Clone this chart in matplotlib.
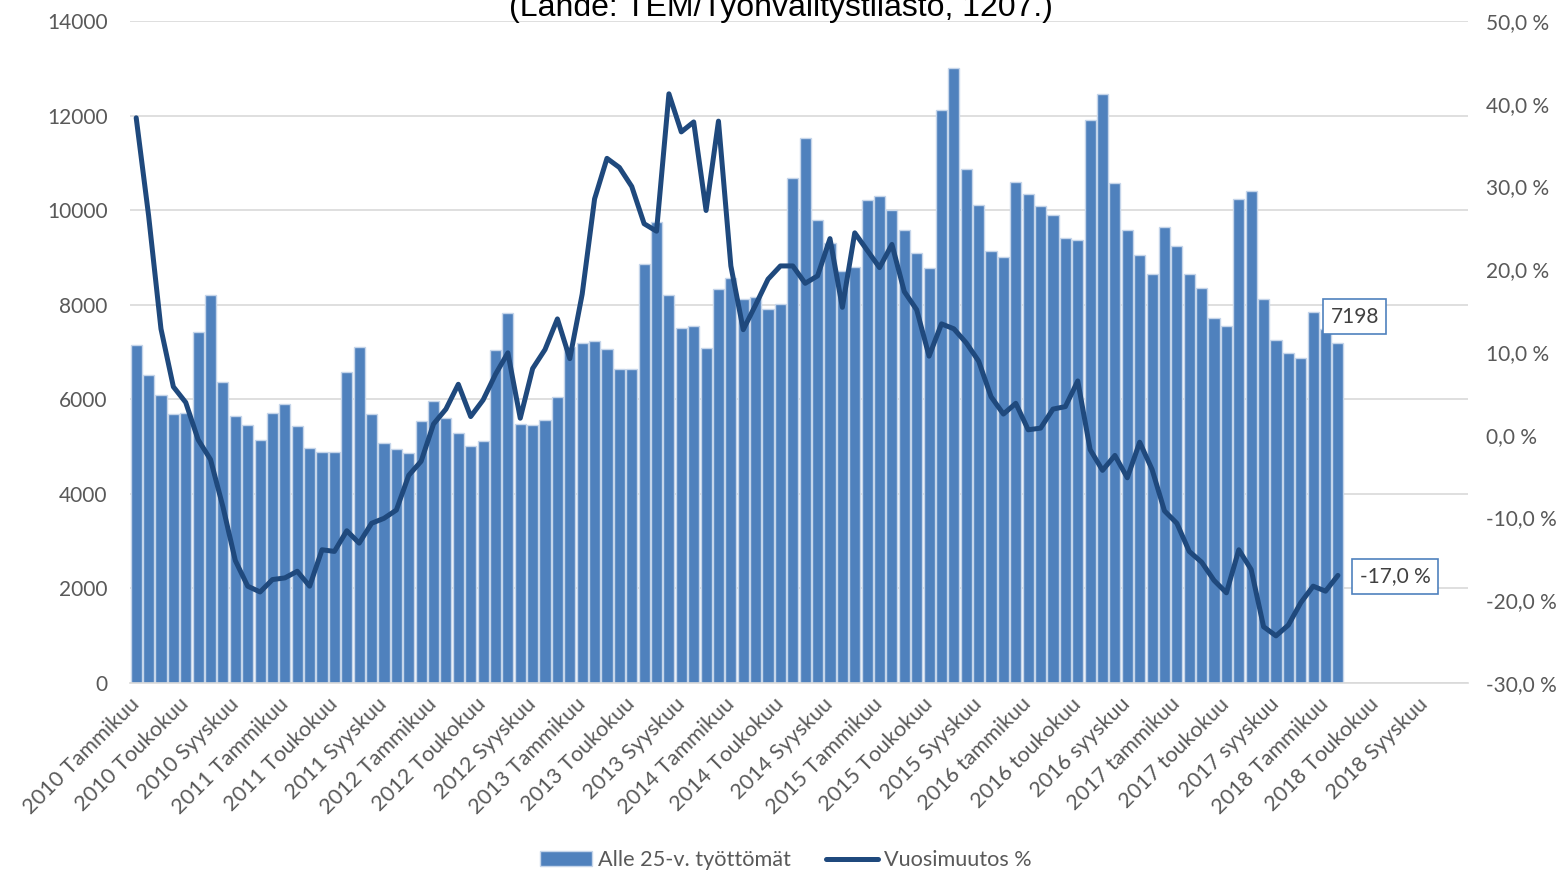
"""
Alle 25-vuotiaat työttömät ja vuosimuutos, kuukausittain 2010-2018
"""

import matplotlib
matplotlib.use("Agg")
import matplotlib.pyplot as plt
import numpy as np

plt.rcParams['font.family'] = ['Lato', 'DejaVu Sans']

# Month names for the category axis
MONTHS = ["Tammikuu", "Helmikuu", "Maaliskuu", "Huhtikuu", "Toukokuu", "Kesäkuu",
          "Heinäkuu", "Elokuu", "Syyskuu", "Lokakuu", "Marraskuu", "Joulukuu"]
YEARS = list(range(2010, 2019))
LOWERCASE_YEARS = [2016, 2017]

# Unemployed under 25 (bars), 2010 Jan -> 2018 Feb
unemployed = [
    7140, 6515, 6100, 5690, 5700, 7430, 8200, 6370, 5650, 5450, 5140, 5700,
    5910, 5430, 4970, 4890, 4890, 6570, 7110, 5690, 5080, 4950, 4870, 5545,
    5965, 5600, 5290, 5020, 5120, 7050, 7820, 5480, 5460, 5560, 6050, 7110,
    7200, 7230, 7070, 6650, 6650, 8860, 9750, 8200, 7510, 7550, 7080, 8335,
    8560, 8130, 8170, 7915, 8020, 10670, 11520, 9790, 9300, 8720, 8800, 10210,
    10290, 10000, 9590, 9090, 8780, 12120, 13010, 10860, 10105, 9130, 9000, 10600,
    10340, 10080, 9895, 9410, 9370, 11900, 12460, 10580, 9575, 9060, 8640, 9635,
    9240, 8655, 8345, 7720, 7550, 10245, 10415, 8125, 7250, 6980, 6875, 7845,
    7495, 7198,
]

# Year-over-year change, % (line)
yoy = [
    38.3, 26.5, 12.8, 5.8, 3.9, -0.6, -3.0, -8.7, -15.2, -18.3, -19.0, -17.5,
    -17.3, -16.5, -18.3, -13.9, -14.1, -11.6, -13.1, -10.7, -10.1, -9.1, -4.9, -3.2,
    1.3, 3.1, 6.1, 2.2, 4.2, 7.3, 9.9, 2.0, 8.0, 10.3, 14.0, 9.2,
    17.0, 28.5, 33.4, 32.3, 30.0, 25.5, 24.6, 41.2, 36.6, 37.8, 27.1, 37.9,
    20.4, 12.7, 15.7, 18.8, 20.4, 20.4, 18.3, 19.2, 23.7, 15.4, 24.4, 22.3,
    20.2, 23.0, 17.3, 15.1, 9.5, 13.4, 12.8, 11.1, 8.9, 4.6, 2.5, 3.8,
    0.6, 0.8, 3.1, 3.4, 6.5, -1.8, -4.3, -2.5, -5.2, -0.9, -4.2, -9.2,
    -10.7, -14.1, -15.4, -17.6, -19.1, -13.9, -16.3, -23.2, -24.3, -23.0, -20.3, -18.3,
    -18.9, -17.0,
]

# Build category labels
categories = []
for year in YEARS:
    for month in MONTHS:
        name = month.lower() if year in LOWERCASE_YEARS else month
        categories.append(f"{year} {name}")

x = np.arange(len(unemployed))
tick_color = '#595959'

fig = plt.figure(figsize=(15.6, 8.72), dpi=100)
ax = fig.add_axes([130 / 1560, 1 - 683 / 872, (1468 - 130) / 1560, (683 - 21) / 872])

# Bars
bars = ax.bar(x, unemployed, width=0.9, color='#4f81bd', edgecolor='#c5d5ea',
              linewidth=1, zorder=2, label='Alle 25-v. työttömät')
ax.set_xlim(-0.5, len(categories) - 0.5)
ax.set_ylim(0, 14000)
ax.set_yticks(range(0, 14001, 2000))
ax.yaxis.grid(True, color='#d9d9d9', linewidth=1.2)
ax.set_axisbelow(True)
for side in ['top', 'right', 'left']:
    ax.spines[side].set_visible(False)
ax.spines['bottom'].set_color('#d9d9d9')
ax.spines['bottom'].set_linewidth(1.2)
ax.tick_params(length=0, colors=tick_color, labelsize=15)
ax.tick_params(axis='y', pad=16)
ax.set_xticks(range(0, len(categories), 4))
ax.set_xticklabels(categories[::4], rotation=45, ha='right', va='center',
                   rotation_mode='anchor', fontsize=15.6)
ax.tick_params(axis='x', pad=13)

# Line on secondary axis
ax2 = ax.twinx()
line, = ax2.plot(x, yoy, color='#1f497d', linewidth=3.6, solid_joinstyle='round',
                 solid_capstyle='round', zorder=3, label='Vuosimuutos %')
ax2.set_ylim(-30, 50)
pct_ticks = list(range(-30, 51, 10))
ax2.set_yticks(pct_ticks)
ax2.set_yticklabels([f"{v:.1f} %".replace('.', ',') for v in pct_ticks])
for side in ['top', 'right', 'left', 'bottom']:
    ax2.spines[side].set_visible(False)
ax2.tick_params(length=0, colors=tick_color, labelsize=15, pad=13)

# Data labels for last values
box = dict(boxstyle='square,pad=0.35', facecolor='white', edgecolor='#4f81bd', linewidth=1.2)
ax.annotate(f"{unemployed[-1]}", xy=(x[-1], unemployed[-1]), xytext=(17, 26),
            textcoords='offset pixels', ha='center', va='center', fontsize=15,
            color='#404040', bbox=box, zorder=5)
ax2.annotate(f"{yoy[-1]:.1f} %".replace('.', ','), xy=(x[-1], yoy[-1]), xytext=(57, -1),
             textcoords='offset pixels', ha='center', va='center', fontsize=15,
             color='#404040', bbox=box, zorder=5)

# Title (cut off at top, as in the original)
fig.text(781 / 1560, 1 - 16 / 872, "(Lähde: TEM/Työnvälitystilasto, 1207.)",
         ha='center', va='baseline', fontsize=23, family='Liberation Sans', color='black')

# Legend
leg = fig.legend([bars, line], ['Alle 25-v. työttömät', 'Vuosimuutos %'],
                 loc='center', bbox_to_anchor=(786 / 1560, 1 - 860 / 872), ncol=2,
                 frameon=False, fontsize=15.6, handlelength=2.4, handleheight=0.65,
                 columnspacing=1.6, handletextpad=0.3)
for text in leg.get_texts():
    text.set_color(tick_color)

fig.savefig('out.png', dpi=100)
